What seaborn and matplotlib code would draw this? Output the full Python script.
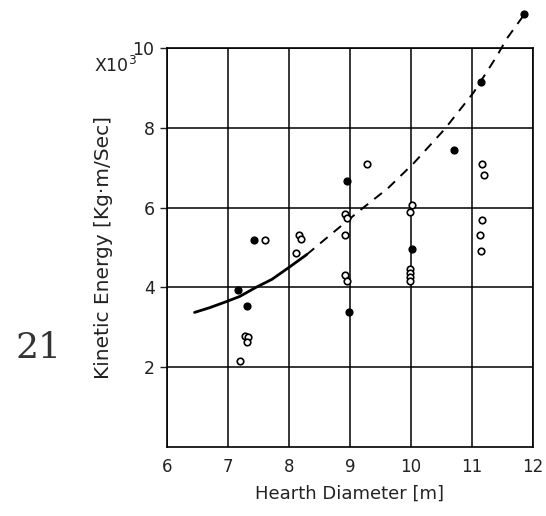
import matplotlib
matplotlib.use("Agg")
import matplotlib.pyplot as plt
import seaborn as sns
import pandas as pd

# Open-circle observations (hearth diameter [m], kinetic energy x10^3)
open_x = [7.20, 7.27, 7.33, 7.31, 7.61, 8.11, 8.16, 8.19, 8.92, 8.95, 8.92, 8.92, 8.95,
          9.28, 10.01, 9.99, 9.99, 9.99, 9.98, 9.98, 11.16, 11.19, 11.16, 11.13, 11.15]
open_y = [2.16, 2.79, 2.76, 2.64, 5.18, 4.85, 5.30, 5.20, 5.83, 5.75, 5.30, 4.30, 4.17,
          7.08, 6.06, 5.88, 4.47, 4.37, 4.27, 4.17, 7.09, 6.81, 5.68, 5.30, 4.92]

# Filled-dot observations
filled_x = [7.17, 7.31, 7.43, 8.99, 8.95, 10.02, 10.71, 11.15, 11.86]
filled_y = [3.92, 3.54, 5.18, 3.39, 6.66, 4.97, 7.44, 9.15, 10.85]

# Trend curve: solid part and dashed extrapolation
solid_x = [6.45, 6.70, 6.97, 7.19, 7.46, 7.72, 8.00, 8.29]
solid_y = [3.37, 3.49, 3.64, 3.77, 4.00, 4.20, 4.50, 4.82]
dash_x = [8.29, 8.69, 9.18, 9.62, 10.05, 10.55, 11.03, 11.41, 11.57, 11.84]
dash_y = [4.82, 5.33, 5.95, 6.48, 7.12, 7.96, 8.89, 9.80, 10.23, 10.80]

x_ticks = [6, 7, 8, 9, 10, 11, 12]
x_labels = ["6", "7", "8", "9", "10", "11", "12"]
y_ticks = [2, 4, 6, 8, 10]
y_labels = ["2", "4", "6", "8", "10"]

sns.set_theme(style="white")
plt.rcParams["font.family"] = ["DejaVu Sans"]

fig = plt.figure(figsize=(5.46, 5.16), dpi=100)
ax = fig.add_axes([0.306, 0.134, 0.670, 0.773])

df_open = pd.DataFrame({"x": open_x, "y": open_y})
df_fill = pd.DataFrame({"x": filled_x, "y": filled_y})
df_solid = pd.DataFrame({"x": solid_x, "y": solid_y})
df_dash = pd.DataFrame({"x": dash_x, "y": dash_y})

sns.lineplot(data=df_solid, x="x", y="y", ax=ax, color="black", lw=2.0,
             sort=False, estimator=None, clip_on=False, zorder=3)
sns.lineplot(data=df_dash, x="x", y="y", ax=ax, color="black", lw=1.4,
             sort=False, estimator=None, clip_on=False, zorder=3,
             dashes=False, linestyle=(0, (5, 4)))
sns.scatterplot(data=df_open, x="x", y="y", ax=ax, s=22, facecolor="white",
                edgecolor="black", linewidth=1.2, clip_on=False, zorder=4)
sns.scatterplot(data=df_fill, x="x", y="y", ax=ax, s=24, color="black",
                edgecolor="black", linewidth=1.0, clip_on=False, zorder=4)

ax.set_xlim(6, 12)
ax.set_ylim(0, 10)
ax.set_xticks(x_ticks)
ax.set_xticklabels(x_labels, fontsize=12)
ax.set_yticks(y_ticks)
ax.set_yticklabels(y_labels, fontsize=12.5)
ax.tick_params(axis="x", length=0, pad=8, colors="#222222")
ax.tick_params(axis="y", length=5, width=1, direction="out", left=True,
               pad=4, colors="#222222")
ax.grid(True, color="black", lw=1.1)
for s in ax.spines.values():
    s.set_color("black")
    s.set_linewidth(1.2)

ax.set_xlabel("Hearth Diameter [m]", fontsize=13, color="#222222", labelpad=6)
ax.set_ylabel("Kinetic Energy [Kg·m/Sec]", fontsize=14.5, color="#222222",
              labelpad=14)

fig.text(0.172, 0.872, "X10$^3$", fontsize=12.5, color="#222222",
         ha="left", va="center")
fig.text(0.028, 0.325, "21", fontsize=26, family="DejaVu Serif",
         color="#333333", ha="left", va="center")

fig.savefig("out.png", dpi=100)
